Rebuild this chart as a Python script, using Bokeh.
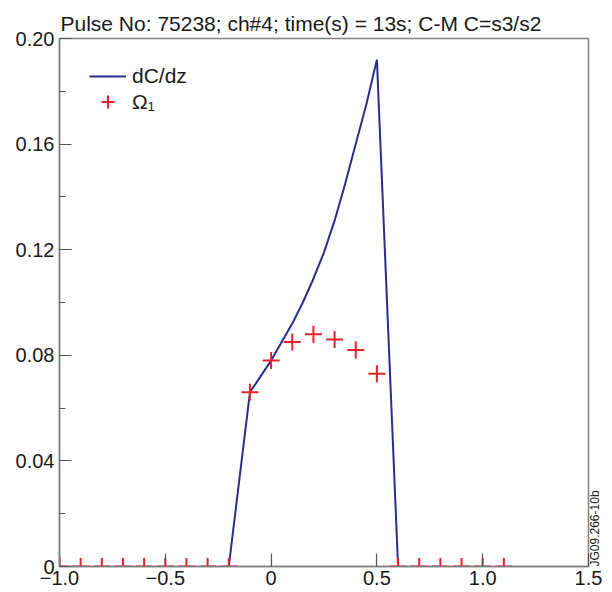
import math
from bokeh.plotting import figure
from bokeh.models import Range1d, FixedTicker, Legend, LegendItem, LinearAxis
from bokeh.embed import file_html
from bokeh.resources import INLINE

# ---- data -------------------------------------------------------------
title_text = "Pulse No: 75238; ch#4; time(s) = 13s; C-M C=s3/s2"
stamp_text = "JG09.266-10b"

dcdz_x = [-0.2, -0.15, -0.1, -0.05, 0.0, 0.05, 0.1, 0.15, 0.2, 0.25,
          0.3, 0.35, 0.4, 0.45, 0.5, 0.6]
dcdz_y = [0.0, 0.033, 0.066, 0.072, 0.078, 0.085, 0.092, 0.100, 0.109,
          0.119, 0.131, 0.145, 0.160, 0.175, 0.192, 0.0]

omega_x = [-1.0, -0.9, -0.8, -0.7, -0.6, -0.5, -0.4, -0.3, -0.2, -0.1,
           0.0, 0.1, 0.2, 0.3, 0.4, 0.5, 0.6, 0.7, 0.8, 0.9, 1.0, 1.1]
omega_y = [0.0, 0.0, 0.0, 0.0, 0.0, 0.0, 0.0, 0.0, 0.0, 0.066,
           0.078, 0.085, 0.088, 0.086, 0.082, 0.073, 0.0, 0.0, 0.0, 0.0, 0.0, 0.0]

x_ticks = [-1.0, -0.5, 0.0, 0.5, 1.0, 1.5]
x_tick_labels = ["\u22121.0", "\u22120.5", "0", "0.5", "1.0", "1.5"]
y_ticks = [0.0, 0.04, 0.08, 0.12, 0.16, 0.20]
y_tick_labels = ["0", "0.04", "0.08", "0.12", "0.16", "0.20"]
y_minor_ticks = [0.02, 0.06, 0.10, 0.14, 0.18]

series_names = ["dC/dz", "\u03a9\u2081"]

# ---- style ------------------------------------------------------------
FONT = "Liberation Sans"
BLUE = "#2b2e8c"
RED = "#e8212b"
GREY = "#7f7f7f"
TXT = "#1a1a1a"

p = figure(width=612, height=592,
           x_range=Range1d(-1.0, 1.5), y_range=Range1d(0.0, 0.2),
           output_backend="svg", toolbar_location=None,
           min_border_left=59, min_border_right=24,
           min_border_top=38, min_border_bottom=26)

p.background_fill_color = "white"
p.border_fill_color = "white"
p.grid.visible = False
p.outline_line_color = GREY
p.outline_line_width = 1.5

p.title.text = title_text
p.title.text_font = FONT
p.title.text_font_size = "21px"
p.title.text_font_style = "normal"
p.title.text_color = TXT
p.title.align = "left"
p.title.offset = 1
p.title.standoff = 8

# y axis
ya = p.yaxis[0]
ya.ticker = FixedTicker(ticks=y_ticks, minor_ticks=y_minor_ticks)
ya.major_label_overrides = {t: s for t, s in zip(y_ticks, y_tick_labels)}
ya.major_label_text_font = FONT
ya.major_label_text_font_size = "20px"
ya.major_label_text_color = TXT
ya.major_label_standoff = 5
ya.axis_line_color = GREY
ya.axis_line_width = 1.5
ya.major_tick_in = 12
ya.major_tick_out = 0
ya.minor_tick_in = 6
ya.minor_tick_out = 0
ya.major_tick_line_color = "#555555"
ya.minor_tick_line_color = "#555555"
ya.major_tick_line_width = 1.2
ya.minor_tick_line_width = 1.2

# x axis
xa = p.xaxis[0]
xa.ticker = FixedTicker(ticks=x_ticks, minor_ticks=[])
xa.major_label_overrides = {t: s for t, s in zip(x_ticks, x_tick_labels)}
xa.major_label_text_font = FONT
xa.major_label_text_font_size = "20px"
xa.major_label_text_color = TXT
xa.major_label_standoff = 4
xa.axis_line_color = GREY
xa.axis_line_width = 1.5
xa.major_tick_in = 13
xa.major_tick_out = 0
xa.minor_tick_in = 0
xa.minor_tick_out = 0
xa.major_tick_line_color = "#555555"
xa.major_tick_line_width = 1.2

# right-hand side stamp, carried by a tick-less axis
ra = LinearAxis(ticker=FixedTicker(ticks=[0.0], minor_ticks=[]),
                major_label_overrides={0.0: stamp_text},
                major_label_orientation=math.pi / 2,
                major_label_text_font=FONT, major_label_text_font_size="12px",
                major_label_text_color=TXT, major_label_standoff=6,
                major_tick_in=0, major_tick_out=0,
                minor_tick_in=0, minor_tick_out=0,
                axis_line_color=None)
p.add_layout(ra, "right")

# data
line_r = p.line(dcdz_x, dcdz_y, line_color=BLUE, line_width=2)
pts_r = p.scatter(omega_x, omega_y, marker="cross", size=17,
                  line_color=RED, line_width=2)

# legends (one per entry so each sample keeps its own size)
leg1 = Legend(items=[LegendItem(label=series_names[0], renderers=[line_r])],
              location=(30, 478), orientation="vertical",
              glyph_width=37, glyph_height=24, label_height=24,
              label_standoff=6, padding=0, margin=0, spacing=0,
              border_line_color=None, background_fill_alpha=0,
              label_text_font=FONT, label_text_font_size="21px",
              label_text_color=TXT)
leg2 = Legend(items=[LegendItem(label=series_names[1], renderers=[pts_r])],
              location=(30, 448), orientation="vertical",
              glyph_width=37, glyph_height=33, label_height=33,
              label_standoff=6, padding=0, margin=0, spacing=0,
              border_line_color=None, background_fill_alpha=0,
              label_text_font=FONT, label_text_font_size="21px",
              label_text_color=TXT)
p.add_layout(leg1)
p.add_layout(leg2)

open("out.html", "w").write(file_html(p, INLINE))
